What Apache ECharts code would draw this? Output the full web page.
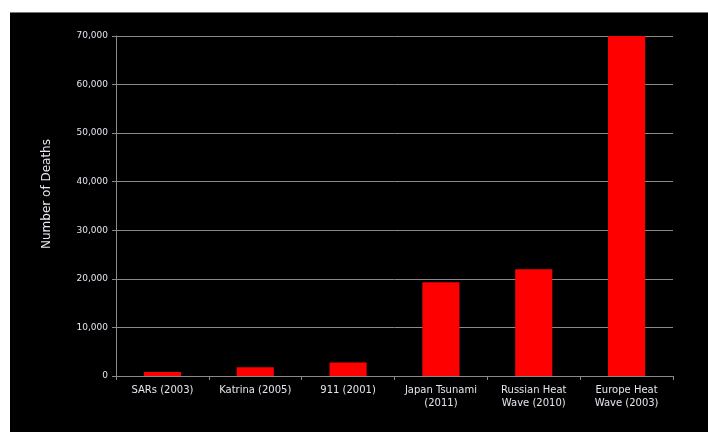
<!DOCTYPE html>
<html lang="en">
<head>
    <meta charset="UTF-8">
    <title>Number of Deaths</title>
    <script src="https://cdn.jsdelivr.net/npm/echarts@6/dist/echarts.min.js"></script>
</head>
<style>
    *{
        margin: 0px;
    }
    body{
        background: #fff;
        width: 708px;
        height: 432px;
        position: relative;
        overflow: hidden;
    }
    /*black chart area*/
    #main{
        position: absolute;
        left: 10px;
        top: 12px;
        width: 698px;
        height: 420px;
        background: #000;
        border-top: 1px solid #777;
        box-sizing: border-box;
    }
</style>
<body>
<div id="main"></div>
<script type="text/javascript">
    // data
    var categories = ["SARs (2003)", "Katrina (2005)", "911 (2001)", "Japan Tsunami\n(2011)", "Russian Heat\nWave (2010)", "Europe Heat\nWave (2003)"];
    var deaths = [800, 1800, 2800, 19300, 22000, 70000];
    var yTicks = {min: 0, max: 70000, interval: 10000};

    var labelColor = "#e2e6ee";
    var lineColor = "#8a8a8a";

    var myChart = echarts.init(document.getElementById('main'));
    var option = {
        backgroundColor: "#000",
        animation: false,
        grid: {
            left: 106,
            right: 35,
            top: 23,
            bottom: 56
        },
        xAxis: {
            type: "category",
            data: categories,
            axisLine: {lineStyle: {color: lineColor, width: 1}},
            axisTick: {show: true, length: 4, lineStyle: {color: lineColor}},
            axisLabel: {
                interval: 0,
                hideOverlap: false,
                color: labelColor,
                fontFamily: "DejaVu Sans",
                fontSize: 10,
                lineHeight: 13,
                margin: 8
            }
        },
        yAxis: {
            type: "value",
            min: yTicks.min,
            max: yTicks.max,
            interval: yTicks.interval,
            name: "Number of Deaths",
            nameLocation: "middle",
            nameRotate: 90,
            nameGap: 63,
            nameTextStyle: {
                color: labelColor,
                fontFamily: "DejaVu Sans",
                fontSize: 12,
                padding: [0, 0, 0, 24]
            },
            axisLine: {show: true, lineStyle: {color: lineColor, width: 1}},
            axisTick: {show: true, length: 4, lineStyle: {color: lineColor}},
            splitLine: {lineStyle: {color: lineColor, width: 1}},
            axisLabel: {
                color: labelColor,
                fontFamily: "DejaVu Sans",
                fontSize: 9,
                margin: 8,
                formatter: function (v) {
                    return v.toLocaleString("en-US");
                }
            }
        },
        series: [{
            type: "bar",
            data: deaths,
            barWidth: "40%",
            itemStyle: {color: "#ff0000"}
        }]
    };
    myChart.setOption(option);
</script>
</body>
</html>
